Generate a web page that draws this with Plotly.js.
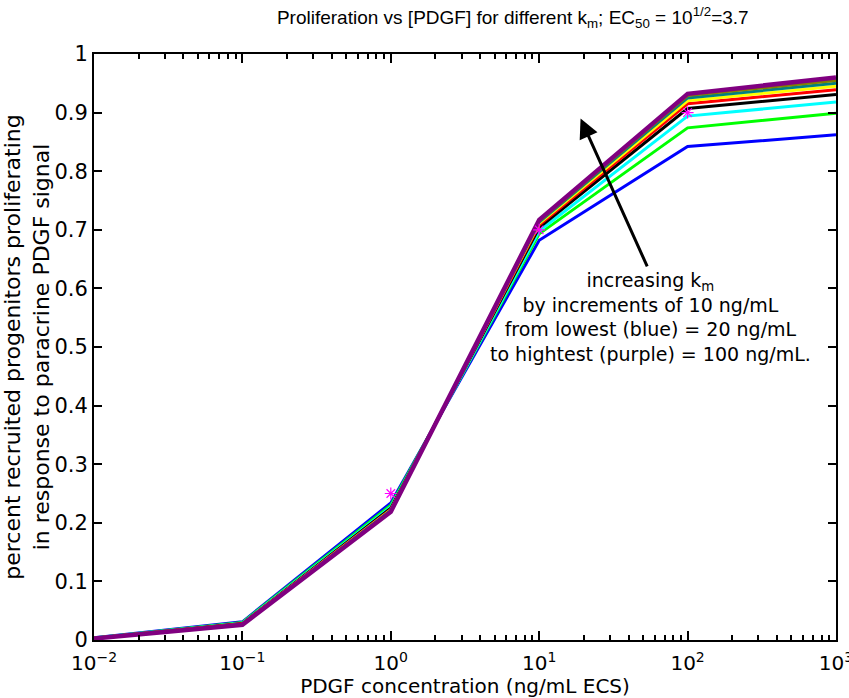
<!DOCTYPE html>
<html>
<head>
<meta charset="utf-8">
<script src="https://cdn.plot.ly/plotly-3.0.1.min.js"></script>
<style>html,body{margin:0;padding:0;background:#fff;}#chart{width:849px;height:698px;}</style>
</head>
<body>
<div id="chart"></div>
<script>
// PDGF concentration (ng/mL ECS)
const pdgf = [0.01, 0.1, 1, 10, 100, 1000];
// x tick labels
const xTickVals = [0.01, 0.1, 1, 10, 100, 1000];
const xTickText = ['10<sup>−2</sup>', '10<sup>−1</sup>', '10<sup>0</sup>', '10<sup>1</sup>', '10<sup>2</sup>', '10<sup>3</sup>'];
const xMinorVals = [0.02,0.03,0.04,0.05,0.06,0.07,0.08,0.09,
                    0.2,0.3,0.4,0.5,0.6,0.7,0.8,0.9,
                    2,3,4,5,6,7,8,9,
                    20,30,40,50,60,70,80,90,
                    200,300,400,500,600,700,800,900];
// k_m values (ng/mL)
const kmLabels = ['20', '30', '40', '50', '60', '70', '80', '90', '100'];
const kmColors = ['#0000ff', '#00ff00', '#00ffff', '#000000', '#ff0000', '#ffff00', '#008080', '#808000', '#800080'];
// proliferating fraction for each k_m
const km20  = [0.004, 0.031, 0.234, 0.682, 0.842, 0.862];
const km30  = [0.0036, 0.030, 0.230, 0.693, 0.874, 0.899];
const km40  = [0.0033, 0.029, 0.227, 0.698, 0.894, 0.918];
const km50  = [0.0031, 0.028, 0.225, 0.704, 0.907, 0.931];
const km60  = [0.0030, 0.028, 0.223, 0.708, 0.915, 0.939];
const km70  = [0.0028, 0.027, 0.222, 0.711, 0.920, 0.945];
const km80  = [0.0027, 0.027, 0.221, 0.713, 0.925, 0.950];
const km90  = [0.0026, 0.026, 0.220, 0.715, 0.929, 0.955];
const km100 = [0.0025, 0.026, 0.219, 0.717, 0.932, 0.960];
const series = [km20, km30, km40, km50, km60, km70, km80, km90, km100];
// experimental points (magenta asterisks)
const expX = [1, 10, 100];
const expY = [0.25, 0.70, 0.90];

const traces = series.map((ys, i) => ({
  x: pdgf, y: ys, type: 'scatter', mode: 'lines',
  name: 'k_m = ' + kmLabels[i],
  line: {color: kmColors[i], width: i === series.length - 1 ? 4.5 : 3},
  hoverinfo: 'x+y'
}));
traces.push({
  x: expX, y: expY, type: 'scatter', mode: 'markers', name: 'data',
  marker: {symbol: 'asterisk-open', size: 10, color: '#ff00ff', line: {color: '#ff00ff', width: 1.2}}
});

const wide = {family: 'DejaVu Sans, Verdana, sans-serif', color: '#000'};
const arial = {family: 'Liberation Sans, Arial, sans-serif', color: '#000'};

const layout = {
  width: 849, height: 698,
  margin: {l: 94, r: 13, t: 54, b: 58},
  paper_bgcolor: '#fff', plot_bgcolor: '#fff',
  showlegend: false,
  font: Object.assign({size: 18}, wide),
  title: {
    text: 'Proliferation vs [PDGF] for different k<sub>m</sub>; EC<sub>50</sub> = 10<sup>1/2</sup>=3.7',
    font: Object.assign({size: 19}, arial),
    x: 0.604, xanchor: 'center', y: 0.975, yanchor: 'middle'
  },
  xaxis: {
    type: 'log', range: [-2, 3],
    tickmode: 'array', tickvals: xTickVals, ticktext: xTickText,
    ticklabeloverflow: 'allow', ticklabelstandoff: 4,
    showgrid: false, zeroline: false,
    showline: true, linecolor: '#000', linewidth: 2, mirror: 'allticks',
    ticks: 'inside', ticklen: 9, tickwidth: 2, tickcolor: '#000',
    minor: {tickmode: 'array', tickvals: xMinorVals, ticks: 'inside', ticklen: 5, tickwidth: 2, tickcolor: '#000', showgrid: false},
    tickfont: Object.assign({size: 20}, wide),
    title: {text: 'PDGF concentration (ng/mL ECS)', font: Object.assign({size: 20}, wide), standoff: 2}
  },
  yaxis: {
    range: [0, 1], dtick: 0.1,
    showgrid: false, zeroline: false,
    showline: true, linecolor: '#000', linewidth: 2, mirror: 'allticks',
    ticks: 'inside', ticklen: 8, tickwidth: 2, tickcolor: '#000',
    tickfont: Object.assign({size: 21}, wide),
    title: {text: 'percent recruited progenitors proliferating<br>in response to paracrine PDGF signal', font: Object.assign({size: 22}, wide), standoff: 2}
  },
  annotations: [
    {
      x: Math.log10(19), y: 0.89, xref: 'x', yref: 'y',
      ax: Math.log10(54), ay: 0.635, axref: 'x', ayref: 'y',
      showarrow: true, arrowhead: 2, arrowsize: 1.3, arrowwidth: 3, arrowcolor: '#000',
      text: ''
    },
    {
      x: Math.log10(56), y: 0.636, xref: 'x', yref: 'y',
      xanchor: 'center', yanchor: 'top', showarrow: false, align: 'center',
      text: 'increasing k<sub>m</sub><br>by increments of 10 ng/mL<br>from lowest (blue) = 20 ng/mL<br>to hightest (purple) = 100 ng/mL.',
      font: Object.assign({size: 19}, wide)
    }
  ]
};

Plotly.newPlot('chart', traces, layout, {displayModeBar: false, staticPlot: true});
</script>
</body>
</html>
